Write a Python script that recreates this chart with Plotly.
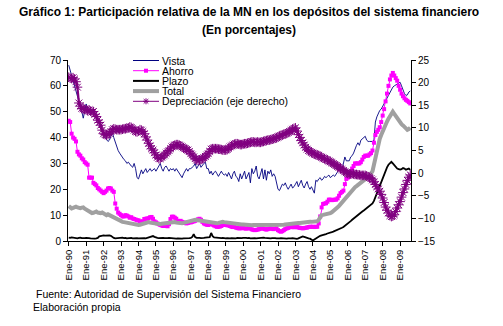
import plotly.graph_objects as go

# ---------------- DATA ----------------
meses = ["Ene", "Feb", "Mar", "Abr", "May", "Jun", "Jul", "Ago", "Sep", "Oct", "Nov", "Dic"]
anios = list(range(1990, 2010))
n_meses = 236  # Ene-90 .. Ago-09
periodo = [f"{meses[i % 12]}-{(anios[i // 12]) % 100:02d}" for i in range(n_meses)]
ticks_x = periodo[::12]

vista = [
    68, 66, 64, 62, 60, 59, 57, 55, 52, 50, 47.5, 50,          # 1990
    53, 51, 50, 49, 50, 51, 49, 48, 47, 46, 45, 43,            # 1991
    42, 40, 39, 38.5, 39, 41, 42, 40, 38, 36.5, 35, 34,        # 1992
    33, 32, 31.5, 31, 30, 30.5, 29.5, 29, 28.5, 30, 28, 24.5,  # 1993
    24, 26, 27.5, 26, 27, 28, 26.5, 27.5, 28, 27, 27.5, 28,    # 1994
    27, 28, 29, 30, 28, 27, 28.5, 29, 28, 27, 28, 27.5,        # 1995
    28, 27, 28, 27, 26, 25, 24.5, 26, 27, 28, 27, 28,          # 1996
    28, 28.5, 29, 30, 28, 29, 30, 28.5, 29.5, 30, 30.5, 28,    # 1997
    28, 26, 27, 25.5, 26.5, 27, 26, 25, 26, 27, 26, 25.5,      # 1998
    26, 25, 26.5, 25, 24, 26, 27, 25, 24.5, 23, 26, 24,        # 1999
    26, 27, 24, 25, 26.5, 22.5, 28, 26, 27, 29, 25, 24,        # 2000
    26, 28, 24, 27.5, 23.5, 27, 26, 27.5, 25, 26, 25, 22,      # 2001
    20, 19.5, 21, 22, 21.5, 22.5, 21, 20, 21, 22, 20.5, 21,    # 2002
    22, 23, 21, 22, 23.5, 21.5, 20.5, 22, 23, 21, 20, 21,      # 2003
    19.5, 18.5, 23.5, 23, 24, 24.5, 23.5, 24, 25, 24.5, 25, 25.5,  # 2004
    24.5, 25, 25.5, 25, 26, 27, 28, 28.5, 27.5, 30, 32.5, 31,  # 2005
    31, 31, 32.5, 33, 34, 36, 37, 38, 37, 39, 39.5, 40,        # 2006
    40.5, 39, 38.5, 38.5, 38.6, 38.5, 39, 46, 48, 49.5, 50.5, 51,  # 2007
    52, 53, 54, 55, 56.5, 57.6, 58.5, 59.5, 60, 60.3, 60.8, 61.2,  # 2008
    61.4, 60, 58.2, 57, 56.3, 56.5, 57.6, 58,                  # 2009
]

ahorro = [
    46.5, 46, 41.5, 40, 39.5, 38.5, 34.5, 33.5, 33, 32, 31.5, 30.5,  # 1990
    30, 29.5, 24.5, 24.5, 24.5, 22.5, 22, 21.5, 20.5, 20, 19.5, 19,  # 1991
    18.5, 19, 19.5, 20.3, 20.5, 20.3, 19.5, 19, 14.5, 12.5, 11, 10.5,  # 1992
    10, 9.5, 9.5, 10, 9.8, 9.5, 9, 9.2, 8.7, 8.5, 8.3, 8,            # 1993
    8, 7.6, 7.4, 7.6, 8.5, 8.6, 8.7, 8.8, 9.2, 9.3, 8.6, 7.6,        # 1994
    7.2, 6.8, 6.5, 6.2, 6, 5.8, 5.8, 6, 5.7, 6.5, 8.5, 9.4,          # 1995
    9.4, 9, 8.6, 7.8, 7.5, 7.8, 7.4, 7.2, 7, 6.8, 7, 7.2,            # 1996
    7.2, 7.4, 7.6, 7.8, 8.1, 8.4, 8.6, 8.2, 7.4, 6.8, 6.5, 6.3,      # 1997
    6.2, 6.5, 6.8, 6.3, 6, 5.7, 5.5, 5.5, 5.6, 5.8, 6.2, 6.3,        # 1998
    6.2, 6.1, 6, 5.8, 5.5, 5.4, 5.5, 5.2, 5, 4.9, 4.9, 5,            # 1999
    5, 4.9, 4.8, 4.9, 5, 4.8, 4.5, 4.3, 4.2, 4.3, 4.4, 4.6,          # 2000
    4.8, 4.9, 4.8, 4.6, 4.4, 4.6, 4.8, 4.9, 4.7, 4.6, 4.8, 4.9,      # 2001
    4.2, 3.8, 3.6, 3.8, 4.2, 4.6, 4.9, 5.1, 5.3, 5.5, 5.4, 5.3,      # 2002
    5.5, 5.4, 5.2, 5.1, 5, 4.9, 5, 5.1, 5.2, 5.4, 5.5, 5.5,          # 2003
    5.5, 5.4, 5.5, 5.5, 6.8, 9.5, 13, 14.3, 14.5, 14.6, 15.2, 16,    # 2004
    16, 15.8, 15.9, 16, 16, 16.5, 17.5, 18.5, 19, 19.5, 22, 24,      # 2005
    24.5, 25, 26.5, 28, 29, 30, 30, 30, 30, 30.5, 31.5, 32.5,        # 2006
    33, 33, 33, 33.5, 34, 35, 38, 41, 42.2, 43, 44, 46,              # 2007
    48.5, 51, 54, 57, 60, 62.5, 64, 65, 64, 63, 62, 60,              # 2008
    58.5, 57, 56, 55.2, 54.6, 54.2, 53.7, 53.2,                      # 2009
]

plazo = [
    1.3, 1.2, 1.4, 1.3, 1.1, 1.2, 1.0, 1.2, 1.3, 1.1, 1.0, 1.1,  # 1990
    1.2, 1.0, 1.1, 1.0, 0.9, 0.8, 0.9, 1.0, 1.2, 1.8, 2.0, 2.2,  # 1991
    2.2, 2.1, 2.2, 2.3, 2.2, 2.0, 1.5, 1.2, 1.0, 1.1, 1.0, 1.0,  # 1992
    1.2, 1.3, 1.1, 1.2, 1.0, 1.1, 1.3, 1.2, 1.0, 1.1, 1.2, 1.1,  # 1993
    1.0, 1.1, 1.2, 1.0, 1.1, 1.0, 1.2, 1.1, 1.4, 1.7, 1.9, 1.6,  # 1994
    1.3, 1.2, 1.1, 1.2, 1.3, 1.2, 1.1, 1.0, 1.1, 1.2, 1.1, 1.0,  # 1995
    1.0, 0.9, 0.9, 1.0, 0.9, 0.8, 0.9, 1.0, 1.0, 0.9, 1.0, 1.1,  # 1996
    1.2, 1.6, 2.6, 1.5, 1.2, 1.3, 1.2, 1.1, 1.3, 1.2, 1.3, 1.4,  # 1997
    1.3, 1.5, 3.1, 1.9, 1.4, 1.3, 1.2, 1.1, 1.0, 1.1, 1.2, 1.0,  # 1998
    1.0, 1.1, 0.9, 1.0, 1.1, 1.0, 0.9, 1.0, 1.2, 1.1, 1.0, 1.1,  # 1999
    1.2, 1.3, 1.2, 1.1, 1.2, 1.0, 1.1, 1.2, 1.1, 1.0, 1.1, 1.2,  # 2000
    1.1, 1.2, 1.3, 1.2, 1.1, 1.0, 1.1, 1.0, 1.1, 1.2, 1.1, 1.0,  # 2001
    0.9, 1.0, 1.1, 1.0, 0.9, 0.8, 0.9, 1.0, 0.9, 1.0, 1.1, 1.0,  # 2002
    0.9, 0.8, 1.0, 1.2, 1.5, 1.8, 1.6, 1.3, 1.1, 1.0, 0.9, 0.7,  # 2003
    0.2, 0.6, 1.0, 1.4, 1.7, 2.0, 2.2, 2.3, 2.5, 2.7, 2.9, 3.0,  # 2004
    3.2, 3.4, 3.6, 3.8, 4.0, 4.2, 4.5, 4.8, 5.1, 5.4, 5.8, 6.3,  # 2005
    6.8, 7.2, 7.7, 8.2, 8.7, 9.2, 9.6, 10.1, 10.6, 11.0, 11.4, 11.8,  # 2006
    12.2, 12.6, 13.0, 13.5, 14.0, 14.5, 15.5, 17.0, 18.5, 20.0, 21.5, 23.0,  # 2007
    24.5, 26.0, 27.5, 28.5, 29.5, 30.3, 30.6, 30.0, 29.3, 28.5, 28.0, 27.8,  # 2008
    27.6, 27.8, 28.2, 28.0, 27.6, 27.8, 28.0, 27.5,  # 2009
]

total = [
    13.5, 13.2, 12.6, 12.8, 13.2, 13.3, 13.0, 12.8, 12.7, 12.9, 13.0, 12.5,  # 1990
    12.2, 12.0, 11.5, 11.0, 10.8, 10.9, 11.2, 11.4, 11.0, 10.7, 10.8, 11.0,  # 1991
    10.6, 10.2, 10.0, 10.3, 10.0, 9.6, 9.4, 9.0, 8.6, 8.2, 8.0, 7.8,  # 1992
    7.6, 7.4, 7.3, 7.2, 7.0, 6.9, 6.8, 6.6, 6.5, 6.3, 6.2, 6.2,  # 1993
    6.2, 6.3, 6.5, 6.8, 7.0, 7.2, 7.4, 7.3, 7.1, 7.0, 6.8, 6.7,  # 1994
    6.6, 6.5, 6.4, 6.5, 6.7, 6.8, 6.9, 7.0, 7.1, 7.2, 7.3, 7.4,  # 1995
    7.4, 7.3, 7.1, 7.0, 6.9, 6.8, 6.9, 7.0, 7.2, 7.4, 7.6, 7.8,  # 1996
    7.9, 8.0, 8.1, 8.2, 8.1, 8.0, 7.8, 7.6, 7.5, 7.4, 7.3, 7.2,  # 1997
    7.2, 7.1, 7.0, 6.9, 6.8, 6.8, 6.9, 7.0, 7.2, 7.3, 7.4, 7.3,  # 1998
    7.2, 7.1, 7.0, 6.9, 6.8, 6.8, 6.7, 6.6, 6.5, 6.5, 6.4, 6.4,  # 1999
    6.4, 6.3, 6.3, 6.2, 6.2, 6.1, 6.1, 6.2, 6.2, 6.3, 6.2, 6.2,  # 2000
    6.2, 6.1, 6.1, 6.2, 6.2, 6.1, 6.2, 6.2, 6.3, 6.2, 6.2, 6.1,  # 2001
    6.1, 6.0, 6.1, 6.2, 6.3, 6.4, 6.5, 6.6, 6.6, 6.7, 6.8, 6.8,  # 2002
    6.8, 6.9, 7.0, 7.0, 7.1, 7.2, 7.2, 7.3, 7.3, 7.4, 7.4, 7.4,  # 2003
    7.4, 7.3, 7.4, 7.6, 8.2, 9.4, 10.0, 10.1, 10.2, 10.3, 10.5, 10.6,  # 2004
    10.8, 11.1, 11.5, 12.0, 12.4, 13.0, 13.6, 14.3, 15.0, 15.5, 16.2, 17.0,  # 2005
    17.8, 18.6, 19.2, 19.8, 20.3, 20.8, 21.2, 21.6, 22.0, 22.4, 22.8, 23.3,  # 2006
    23.8, 24.3, 24.8, 25.3, 26.0, 27.0, 29.5, 32.5, 35.5, 37.5, 39.5, 41.0,  # 2007
    42.5, 43.5, 45.0, 46.2, 47.3, 48.5, 49.5, 50.0, 49.2, 48.3, 47.3, 46.7,  # 2008
    46.0, 45.2, 44.7, 44.0, 43.4, 43.0, 43.3, 43.8,  # 2009
]

depreciacion = [
    21.2, 21.0, 20.9, 21.1, 20.8, 20.2, 19.0, 15.5, 14.8, 14.3, 14.2, 14.1,  # 1990
    14.0, 13.8, 14.0, 13.7, 13.5, 13.6, 13.0, 12.5, 11.7, 11.2, 10.6, 9.5,  # 1991
    8.7, 8.5, 8.4, 8.5, 8.8, 9.2, 9.6, 9.8, 9.7, 9.6, 9.6, 9.6,  # 1992
    9.6, 9.7, 9.8, 9.8, 9.9, 10.0, 10.2, 10.1, 9.8, 9.5, 9.2, 9.1,  # 1993
    9.3, 9.6, 9.5, 9.2, 8.7, 8.0, 7.3, 6.6, 6.0, 5.4, 5.1, 4.5,  # 1994
    4.0, 3.5, 3.2, 3.2, 3.5, 3.8, 4.0, 4.4, 4.7, 5.0, 5.4, 5.8,  # 1995
    6.0, 6.2, 6.3, 6.3, 6.2, 6.0, 5.8, 5.6, 5.4, 5.2, 5.1, 4.8,  # 1996
    4.3, 4.0, 3.6, 3.2, 2.9, 2.8, 2.9, 3.0, 3.2, 3.4, 3.7, 4.0,  # 1997
    4.3, 4.8, 5.3, 5.4, 5.4, 5.4, 5.4, 5.3, 5.3, 5.2, 5.1, 5.1,  # 1998
    5.1, 5.2, 5.5, 5.8, 6.0, 6.2, 6.4, 6.5, 6.5, 6.4, 6.3, 6.3,  # 1999
    6.4, 6.5, 6.5, 6.6, 6.7, 6.8, 6.9, 6.9, 6.8, 6.8, 6.9, 6.8,  # 2000
    6.8, 6.9, 7.0, 7.1, 7.2, 7.3, 7.3, 7.4, 7.5, 7.6, 7.7, 7.8,  # 2001
    8.0, 8.2, 8.3, 8.4, 8.6, 8.7, 8.8, 9.0, 9.2, 9.4, 9.7, 9.9,  # 2002
    10.0, 9.3, 8.5, 7.9, 7.2, 6.7, 6.2, 5.7, 5.3, 5.0, 4.8, 4.6,  # 2003
    4.4, 4.2, 4.1, 4.0, 3.9, 3.7, 3.5, 3.3, 3.2, 3.0, 2.9, 2.7,  # 2004
    2.5, 2.3, 2.1, 1.9, 1.7, 1.5, 1.3, 1.0, 0.8, 0.6, 0.3, 0.1,  # 2005
    -0.1, -0.2, -0.2, -0.1, -0.2, -0.3, -0.3, -0.4, -0.4, -0.5, -0.5, -0.5,  # 2006
    -0.5, -0.6, -0.8, -1.0, -1.2, -1.5, -1.9, -2.5, -3.0, -3.5, -4.0, -4.7,  # 2007
    -5.5, -6.5, -7.5, -8.2, -8.8, -9.4, -9.6, -9.5, -9.2, -8.5, -7.7, -7.0,  # 2008
    -6.3, -5.3, -4.3, -3.5, -2.5, -1.6, -0.9, -0.4,  # 2009
]

ticks_izq = list(range(0, 71, 10))
ticks_der = list(range(-15, 26, 5))

# ---------------- LAYOUT CONSTANTS ----------------
W, H = 503, 326
ML, MR, MT, MB = 68, 92, 60, 85
PW, PH = W - ML - MR, H - MT - MB
FONT = "Liberation Sans, Arial, sans-serif"

def px(xp):
    return (xp - ML) / PW

def py(yp):
    return (H - MB - yp) / PH

COL_VISTA = "#000080"
COL_AHORRO = "#FF00FF"
COL_PLAZO = "#000000"
COL_TOTAL = "#A0A0A0"
COL_DEP = "#800080"

fig = go.Figure()
fig.add_trace(go.Scatter(x=periodo, y=vista, mode="lines", name="Vista",
                         line=dict(color=COL_VISTA, width=0.9)))
fig.add_trace(go.Scatter(x=periodo, y=ahorro, mode="lines+markers", name="Ahorro",
                         line=dict(color=COL_AHORRO, width=1),
                         marker=dict(symbol="square", size=4, color=COL_AHORRO)))
fig.add_trace(go.Scatter(x=periodo, y=plazo, mode="lines", name="Plazo",
                         line=dict(color=COL_PLAZO, width=1.8)))
fig.add_trace(go.Scatter(x=periodo, y=total, mode="lines", name="Total",
                         line=dict(color=COL_TOTAL, width=4)))
fig.add_trace(go.Scatter(x=periodo, y=depreciacion, mode="lines+markers",
                         name="Depreciación (eje derecho)", yaxis="y2",
                         line=dict(color=COL_DEP, width=2.2),
                         marker=dict(symbol="asterisk-open", size=8,
                                     line=dict(color="#9a3c9a", width=1))))

axis_common = dict(showline=True, linecolor="black", linewidth=1, ticks="outside",
                   ticklen=4, tickcolor="black", showgrid=False, zeroline=False,
                   tickfont=dict(family=FONT, size=10, color="black"))

fig.update_layout(
    width=W, height=H, autosize=False,
    margin=dict(l=ML, r=MR, t=MT, b=MB),
    paper_bgcolor="white", plot_bgcolor="white",
    showlegend=False,
    xaxis=dict(type="category", range=[-0.5, n_meses - 0.5],
               tickmode="array", tickvals=ticks_x, ticktext=ticks_x,
               tickangle=-90, **axis_common),
    yaxis=dict(range=[0, 70], tickvals=ticks_izq, **axis_common),
    yaxis2=dict(range=[-15, 25], tickvals=ticks_der, overlaying="y", side="right",
                **axis_common),
)
fig.update_xaxes(tickfont=dict(size=9.5))

# Title
fig.add_annotation(text="<b>Gráfico 1: Participación relativa de la MN en los depósitos del sistema financiero</b>",
                   xref="paper", yref="paper", x=px(249), y=py(12), xanchor="center", yanchor="middle",
                   showarrow=False, font=dict(family=FONT, size=12, color="black"))
fig.add_annotation(text="<b>(En porcentajes)</b>",
                   xref="paper", yref="paper", x=px(249), y=py(30), xanchor="center", yanchor="middle",
                   showarrow=False, font=dict(family=FONT, size=12, color="black"))

# Footer
fig.add_annotation(text="Fuente: Autoridad de Supervisión del Sistema Financiero",
                   xref="paper", yref="paper", x=px(34), y=py(294), xanchor="left", yanchor="middle",
                   showarrow=False, font=dict(family=FONT, size=10.5, color="black"))
fig.add_annotation(text="Elaboración propia",
                   xref="paper", yref="paper", x=px(31), y=py(307), xanchor="left", yanchor="middle",
                   showarrow=False, font=dict(family=FONT, size=10.5, color="black"))

# Custom legend
leg_names = ["Vista", "Ahorro", "Plazo", "Total", "Depreciación (eje derecho)"]
leg_cols = [COL_VISTA, COL_AHORRO, COL_PLAZO, COL_TOTAL, COL_DEP]
leg_w = [1, 1, 2, 4, 1]
leg_y0, leg_dy = 60.5, 10.2
x0l, x1l, xt = 133, 159, 160
for i, (nm, c, w) in enumerate(zip(leg_names, leg_cols, leg_w)):
    yy = leg_y0 + i * leg_dy
    fig.add_shape(type="line", xref="paper", yref="paper", x0=px(x0l), x1=px(x1l),
                  y0=py(yy), y1=py(yy), line=dict(color=c, width=w))
    fig.add_annotation(text=nm, xref="paper", yref="paper", x=px(xt), y=py(yy),
                       xanchor="left", yanchor="middle", showarrow=False,
                       font=dict(family=FONT, size=10.5, color="black"))
# Ahorro marker
ym = leg_y0 + leg_dy
fig.add_shape(type="rect", xref="paper", yref="paper", x0=px(144), x1=px(148),
              y0=py(ym - 2), y1=py(ym + 2), fillcolor=COL_AHORRO, line=dict(width=0))
# Depreciation asterisk marker
ya = leg_y0 + 4 * leg_dy
cx = 146
for (dx0, dy0, dx1, dy1) in [(-3, 0, 3, 0), (0, -3, 0, 3), (-2.3, -2.3, 2.3, 2.3), (-2.3, 2.3, 2.3, -2.3)]:
    fig.add_shape(type="line", xref="paper", yref="paper",
                  x0=px(cx + dx0), x1=px(cx + dx1), y0=py(ya + dy0), y1=py(ya + dy1),
                  line=dict(color=COL_DEP, width=1))

fig.write_html("out.html")
